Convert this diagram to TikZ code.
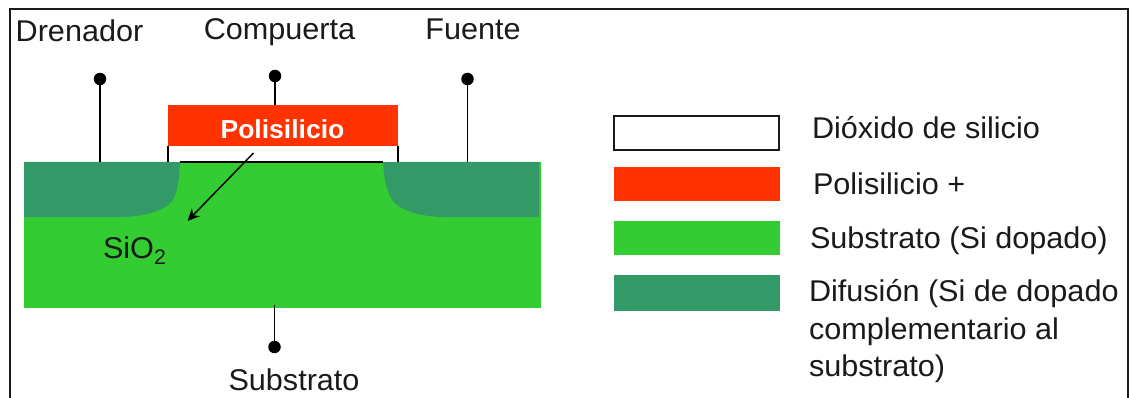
\documentclass[tikz,border=0pt]{standalone}
\usepackage{fontspec}
\setmainfont[FakeStretch=1.02]{Liberation Sans}
\usetikzlibrary{arrows.meta}
\definecolor{polyred}{HTML}{FF3300}
\definecolor{subgreen}{HTML}{33CC33}
\definecolor{difgreen}{HTML}{339966}
\definecolor{ink}{HTML}{1A1A1A}
\tikzset{
  blockbox/.style={rectangle,inner sep=0pt,outer sep=0pt,minimum width=#1},
  lab/.style={inner sep=0pt,outer sep=0pt,text=ink,font=\fontsize{30}{37.5}\selectfont,anchor=base},
  terminal/.style={circle,fill=black,inner sep=0pt,outer sep=0pt,minimum size=12.5pt},
  wire/.style={draw=black,line width=1.5pt},
  legendtext/.style={lab,anchor=base west,align=left}
}
\begin{document}
\begin{tikzpicture}[x=1pt,y=-1pt]
\useasboundingbox (0,0) rectangle (1129,398);
\fill[white] (0,0) rectangle (1129,398);
% frame
\draw[line width=2pt,draw=ink] (9.5,398) -- (9.5,9) -- (1127.5,9) -- (1127.5,398);
% substrate
\node[blockbox=517pt,minimum height=146pt,fill=subgreen] (sub) at (282.5,235) {};
% diffusions
\fill[difgreen] (24,162) -- (180,162) .. controls (179,185) and (176,196) .. (172,201) .. controls (164,212) and (140,217) .. (121,217) -- (24,217) -- cycle;
\fill[difgreen] (539,162) -- (383,162) .. controls (384,182) and (388,194) .. (393,201) .. controls (402,212) and (425,217) .. (444,217) -- (539,217) -- cycle;
% oxide
\node[blockbox=230pt,minimum height=16pt,fill=white] (ox) at (283,154) {};
\draw[wire] (ox.north west) -- (ox.south west);
\draw[wire] (ox.north east) -- (ox.south east);
\coordinate (chL) at (180,162);
\coordinate (chR) at (383,162);
\draw[line width=2pt,draw=black] (chL) -- (chR);
% polysilicon
\node[blockbox=230pt,minimum height=41.5pt,fill=polyred] (poly) at (283,125.5) {};
\node[inner sep=0pt,anchor=base,text=white,font=\fontsize{26}{28}\selectfont\bfseries] (polytext) at (282.5,138.5) {Polisilicio};
% terminals
\node[terminal] (dD) at (100,79) {};
\node[terminal] (dG) at (275,76) {};
\node[terminal] (dS) at (467.5,79) {};
\node[terminal] (dB) at (274.5,347) {};
\coordinate (wB) at (274.5,305);
\draw[wire] (dD) -- (dD |- sub.north);
\draw[wire] (dG) -- (dG |- poly.north);
\draw[wire] (dS) -- (dS |- sub.north);
\draw[wire] (dB.center) -- (wB);
% labels
\node[lab] (lD) at (79.5,41.5) {Drenador};
\node[lab] (lG) at (279.5,39.5) {Compuerta};
\node[lab] (lS) at (473,39.5) {Fuente};
\node[lab] (lB) at (294,390) {Substrato};
\node[lab,anchor=base west] (lOx) at (103,258.5) {SiO\textsubscript{2}};
% arrow
\coordinate (arA) at (253.5,153);
\coordinate (arB) at (187.5,221);
\draw[line width=1.5pt,draw=black,-{Stealth[length=12pt,width=11pt]}] (arA) -- (arB);
% legend
\node[blockbox=165pt,minimum height=34pt,fill=white,draw=ink,line width=2pt] (k1) at (696.5,133.5) {};
\node[blockbox=166pt,minimum height=34pt,fill=polyred] (k2) at (696.5,184) {};
\node[blockbox=166pt,minimum height=34pt,fill=subgreen] (k3) at (696.5,238) {};
\node[blockbox=166pt,minimum height=36pt,fill=difgreen] (k4) at (696.5,292.5) {};
\node[legendtext] (t1) at (812,139) {Dióxido de silicio};
\node[legendtext] (t2) at (813,194) {Polisilicio +};
\node[legendtext] (t3) at (810,248.5) {Substrato (Si dopado)};
\node[legendtext,anchor=north west,text depth=0pt] (t4) at (809,279.5) {Difusión (Si de dopado\\complementario al\\substrato)};
\end{tikzpicture}
\end{document}
